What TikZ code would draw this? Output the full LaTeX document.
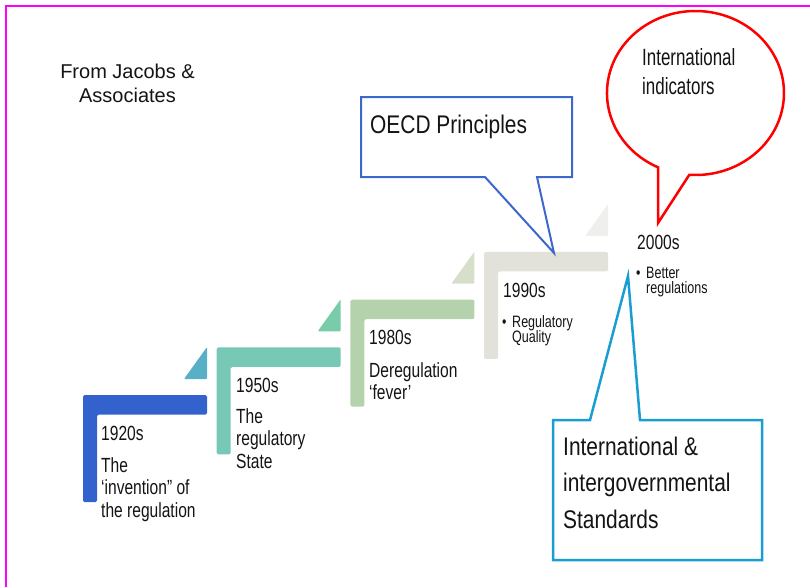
\documentclass[tikz,border=0pt]{standalone}
\usepackage{fontspec}
\setmainfont{Liberation Sans}[FakeStretch=0.82]
\newfontfamily\widefont{Liberation Sans}
\newfontfamily\stepfont{Liberation Sans}[FakeStretch=0.76]
\newfontfamily\circfont{Liberation Sans}[FakeStretch=0.72]
\definecolor{stepblue}{HTML}{3462CC}
\definecolor{tria}{HTML}{58B0C6}
\definecolor{stepteal}{HTML}{77C9B6}
\definecolor{trib}{HTML}{79CBA9}
\definecolor{stepgreen}{HTML}{B4D3AD}
\definecolor{tric}{HTML}{D5DFCA}
\definecolor{stepgrey}{HTML}{E2E2DA}
\definecolor{trid}{HTML}{EFEFED}
\definecolor{oecdblue}{HTML}{3D68CB}
\definecolor{stdcyan}{HTML}{1A9ED2}
\definecolor{frame}{HTML}{FF00FF}
\definecolor{txt}{HTML}{141414}
\begin{document}
\begin{tikzpicture}[x=1pt,y=-1pt,
  stepshape/.style={fill=#1, rounded corners=1.5pt},
  steptri/.style={fill=#1, rounded corners=1pt},
  head/.style={anchor=base west, inner sep=0pt, text=txt, font=\stepfont\fontsize{20.5}{22}\selectfont},
  body/.style={anchor=base west, inner sep=0pt, align=left, text=txt, font=\stepfont\fontsize{20.5}{22.5}\selectfont},
  small/.style={anchor=base west, inner sep=0pt, align=left, text=txt, font=\stepfont\fontsize{16.5}{15.5}\selectfont},
  calltext/.style={anchor=base west, inner sep=0pt, align=left, text=txt, font=\fontsize{25.5}{36.5}\selectfont},
  circtext/.style={anchor=base west, inner sep=0pt, align=left, text=txt, font=\circfont\fontsize{23.5}{29}\selectfont},
  callout/.style={draw=#1, line width=2pt, fill=white, line join=miter},
]
\useasboundingbox (0,0) rectangle (810,587);
% frame
\draw[frame, line width=1.2pt] (6,587) -- (6,6) -- (810,6);

% steps
\foreach \i/\c/\t in {0/stepblue/tria, 1/stepteal/trib, 2/stepgreen/tric, 3/stepgrey/trid}{
  \pgfmathsetmacro\X{83+133.7*\i}
  \pgfmathsetmacro\Y{395-47.7*\i}
  \fill[stepshape=\c] (\X,\Y) -- ++(124,0) -- ++(0,19.5) -- ++(-110,0) -- ++(0,87.5) -- ++(-14,0) -- cycle;
  \fill[steptri=\t] (\X+124,\Y-48) -- (\X+124,\Y-16) -- (\X+101,\Y-16) -- cycle;
}

% title (anchor = baseline of last line)
\node[inner sep=0pt, anchor=base, text=txt, align=center, font=\widefont\fontsize{20}{24}\selectfont] (jacobs) at (127.5,102) {From Jacobs \&\\Associates};

% step texts (multi-line nodes anchored at the baseline of their last line)
\node[head] (h1920) at (101,440) {1920s};
\node[body] (b1920) at (101,517) {The\\‘invention” of\\the regulation};
\node[head] (h1950) at (236,392) {1950s};
\node[body] (b1950) at (236,468) {The\\regulatory\\State};
\node[head] (h1980) at (369,344) {1980s};
\node[body] (b1980) at (369,399.5) {Deregulation\\‘fever’};
\node[head] (h1990) at (503,297) {1990s};
\node[small] (d1990) at (502,327) {•};
\node[small] (b1990) at (512,342.5) {Regulatory\\Quality};
\node[head] (h2000) at (637,249) {2000s};
\node[small] (d2000) at (636,278) {•};
\node[small] (b2000) at (646,293.5) {Better\\regulations};

% OECD callout
\coordinate (oecdtip) at (554,253);
\draw[callout=oecdblue] (361,97) -- (572,97) -- (572,177) -- (537,177) -- (oecdtip) -- (485,177) -- (361,177) -- cycle;
\node[calltext] (oecd) at (370,133) {OECD Principles};

% Standards callout
\coordinate (stdtip) at (628,276);
\draw[callout=stdcyan, line width=2.5pt] (553,420) -- (590,420) -- (stdtip) -- (640,420) -- (762,420) -- (762,560) -- (553,560) -- cycle;
\node[calltext] (std) at (563,528) {International \&\\intergovernmental\\Standards};

% Indicators balloon
\coordinate (indtip) at (658,223);
\draw[callout=red, line width=2.5pt] (indtip) -- (689.3,174.8) arc[start angle=94, end angle=-245, x radius=88.5, y radius=82] -- cycle;
\node[circtext] (indic) at (642,94) {International\\indicators};
\end{tikzpicture}
\end{document}
